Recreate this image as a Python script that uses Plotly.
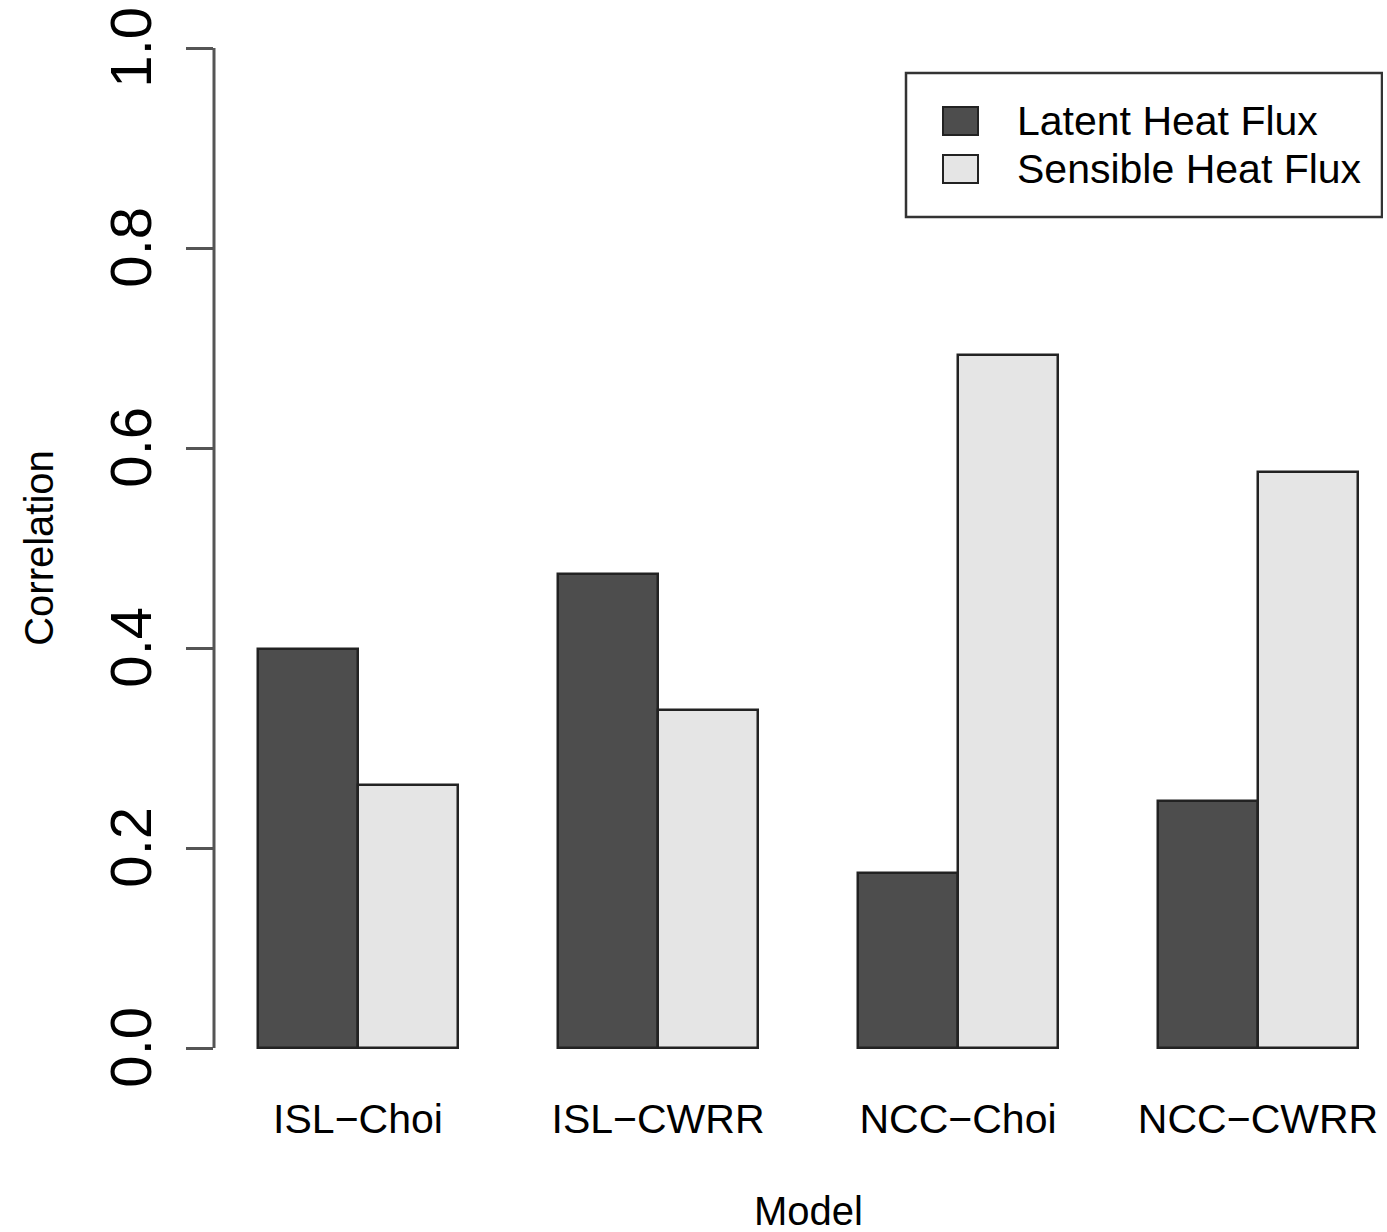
import numpy as np
import plotly.graph_objects as go

models = ["ISL−Choi", "ISL−CWRR", "NCC−Choi", "NCC−CWRR"]
latent = [0.399, 0.474, 0.175, 0.247]
sensible = [0.263, 0.338, 0.693, 0.576]
series_names = ["Latent Heat Flux", "Sensible Heat Flux"]
series_colors = ["#4d4d4d", "#e5e5e5"]
y_ticks = [0.0, 0.2, 0.4, 0.6, 0.8, 1.0]

FONT = "Liberation Sans, Arial, sans-serif"

# barplot(beside=TRUE) style: bars one unit wide, one empty unit between groups
group = np.arange(len(models))
left = 1 + 3 * group
mids = left + 1

fig = go.Figure()
for k, (name, vals, col) in enumerate(zip(series_names, [latent, sensible], series_colors)):
    fig.add_trace(go.Bar(x=left + 0.5 + k, y=vals, width=1, name=name,
                         marker=dict(color=col, line=dict(color="#222222", width=2.5)),
                         showlegend=False))

# y axis line only spans the tick range, like base R
fig.add_shape(type="line", xref="paper", yref="y", x0=0, x1=0, y0=0, y1=1,
              line=dict(color="#555555", width=3))

# legend box drawn by hand so the keys are as big as in the original
fig.add_shape(type="rect", xref="x", yref="y", x0=7.48, x1=12.24, y0=0.831, y1=0.975,
              line=dict(color="#333333", width=2.5), fillcolor="white")
for k, (name, col) in enumerate(zip(series_names, series_colors)):
    yc = 0.927 - 0.048 * k
    fig.add_shape(type="rect", xref="x", yref="y", x0=7.85, x1=8.2, y0=yc - 0.014, y1=yc + 0.014,
                  line=dict(color="#222222", width=2), fillcolor=col)
    fig.add_annotation(x=8.57, y=yc, xref="x", yref="y", text=name, showarrow=False,
                       xanchor="left", yanchor="middle", font=dict(size=41, color="black", family=FONT))

fig.add_annotation(x=6.5, y=-0.1139, xref="x", yref="paper", text="Model", showarrow=False,
                   xanchor="center", yanchor="middle", font=dict(size=40, color="black", family=FONT))

fig.update_xaxes(range=[0.56, 12.25], tickvals=mids, ticktext=models, showline=False,
                 showgrid=False, zeroline=False, ticks="", ticklabelstandoff=3, automargin=False,
                 tickfont=dict(size=41, color="black", family=FONT))
fig.update_yaxes(range=[-0.04, 1.04], tickvals=y_ticks, ticktext=[f"{v:.1f}" for v in y_ticks],
                 showline=False, showgrid=False, zeroline=False, ticks="outside", ticklen=27,
                 tickwidth=2.5, tickcolor="#555555", tickangle=-90, ticklabelstandoff=12,
                 ticklabelshift=8, ticklabeloverflow="allow", automargin=False,
                 tickfont=dict(size=58, color="black", family=FONT),
                 title=dict(text="Correlation", standoff=31, font=dict(size=40, color="black", family=FONT)))

fig.update_layout(width=1387, height=1232, margin=dict(l=214, r=4, t=8, b=144),
                  plot_bgcolor="white", paper_bgcolor="white", bargap=0,
                  font=dict(family=FONT, color="black"))

fig.write_html("out.html", config={"displayModeBar": False},
               post_script="document.body.style.margin='0';")
